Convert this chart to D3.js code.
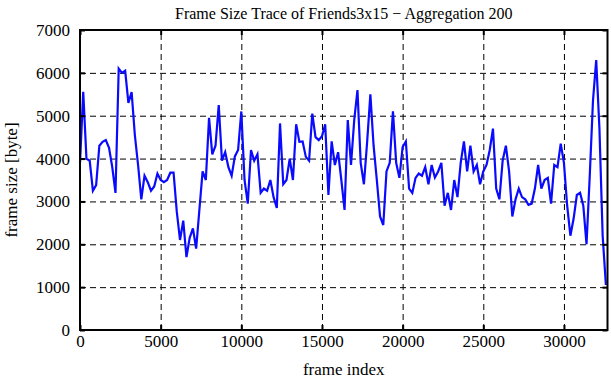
<!DOCTYPE html>
<html>
<head>
<meta charset="utf-8">
<script src="https://cdn.jsdelivr.net/npm/d3@7"></script>
<style>
  body { margin: 0; background: #fff; }
  svg text { font-family: "Liberation Serif", "DejaVu Serif", serif; fill: #000; }
</style>
</head>
<body>
<svg id="CHART" width="611" height="380"></svg>
<script>
// frame size (byte) averaged over 200 frames, one value per aggregation window
var frameSizes = [
  3900, 5560, 4000, 3950, 3250, 3380, 4300, 4390, 4430, 4250,
  3800, 3200, 6100, 6000, 6050, 5300, 5550, 4550, 3850, 3050,
  3600, 3450, 3250, 3350, 3650, 3500, 3450, 3500, 3670, 3670,
  2760, 2100, 2550, 1700, 2150, 2370, 1900, 2800, 3700, 3500,
  4950, 4100, 4300, 5250, 3950, 4150, 3800, 3600, 4050, 4200,
  5100, 3500, 2950, 4200, 3950, 4100, 3200, 3300, 3250, 3500,
  3100, 2850, 4820, 3400, 3500, 4000, 3500, 4800, 4390, 4400,
  4040, 3950, 5050, 4500, 4430, 4520, 4800, 3150, 4400, 3850,
  4150, 3500, 2800, 4900, 3850, 4900, 5600, 3900, 3400, 4390,
  5500, 4300, 3500, 2650, 2450, 3700, 3900, 5100, 3900, 3550,
  4270, 4400, 3300, 3200, 3550, 3650, 3600, 3800, 3400, 3850,
  3560, 3700, 3900, 2900, 3200, 2800, 3500, 3100, 3900, 4400,
  3700, 4300, 3700, 3850, 3400, 3700, 3850, 4200, 4700, 3300,
  3050, 3950, 4300, 3700, 2650, 3050, 3300, 3100, 3050, 2920,
  2950, 3300, 3850, 3300, 3500, 3550, 2950, 3850, 3800, 4350,
  3900, 2900, 2200, 2600, 3150, 3200, 2900, 2000, 3600, 5350,
  6300, 4700, 2200, 1050
];
var aggregation = 200;
var xTicks = [0, 5000, 10000, 15000, 20000, 25000, 30000];
var yTicks = [0, 1000, 2000, 3000, 4000, 5000, 6000, 7000];
var xMax = 32700;
var yMax = 7000;

var titleText = "Frame Size Trace of Friends3x15 \u2212 Aggregation 200";
var xLabel = "frame index";
var yLabel = "frame size [byte]";

var margin = { left: 80, right: 3.5, top: 30, bottom: 50 };
var width = 611 - margin.left - margin.right;
var height = 380 - margin.top - margin.bottom;

var svg = d3.select("#CHART");
var g = svg.append("g")
  .attr("transform", "translate(" + margin.left + "," + margin.top + ")");

var x = d3.scaleLinear().domain([0, xMax]).range([0, width]);
var y = d3.scaleLinear().domain([0, yMax]).range([height, 0]);

// dashed grid
var gridX = g.append("g")
  .attr("transform", "translate(0," + height + ")")
  .call(d3.axisBottom(x).tickValues(xTicks.slice(1)).tickSize(-height).tickFormat(""));
var gridY = g.append("g")
  .call(d3.axisLeft(y).tickValues(yTicks.slice(1, -1)).tickSize(-width).tickFormat(""));
[gridX, gridY].forEach(function (a) {
  a.select(".domain").remove();
  a.selectAll("line")
    .attr("stroke", "#000")
    .attr("stroke-width", 1)
    .attr("stroke-dasharray", "6,4");
});

// the trace
var line = d3.line()
  .x(function (d, i) { return x(i * aggregation); })
  .y(function (d) { return y(d); });

g.append("path")
  .datum(frameSizes)
  .attr("fill", "none")
  .attr("stroke", "#0a0aff")
  .attr("stroke-width", 2.2)
  .attr("stroke-linejoin", "miter")
  .attr("d", line);

// inward ticks on all four sides
function tickStyle(a) {
  a.select(".domain").remove();
  a.selectAll("line").attr("stroke", "#000").attr("stroke-width", 2);
}
var tickLen = 5;
g.append("g").attr("transform", "translate(0," + height + ")")
  .call(d3.axisBottom(x).tickValues(xTicks).tickSize(-tickLen).tickFormat(""))
  .call(tickStyle);
g.append("g")
  .call(d3.axisTop(x).tickValues(xTicks).tickSize(-tickLen).tickFormat(""))
  .call(tickStyle);
g.append("g")
  .call(d3.axisLeft(y).tickValues(yTicks).tickSize(-tickLen).tickFormat(""))
  .call(tickStyle);
g.append("g").attr("transform", "translate(" + width + ",0)")
  .call(d3.axisRight(y).tickValues(yTicks).tickSize(-tickLen).tickFormat(""))
  .call(tickStyle);

// tick labels
var xAxis = g.append("g").attr("transform", "translate(0," + height + ")")
  .call(d3.axisBottom(x).tickValues(xTicks).tickSize(0).tickPadding(5).tickFormat(d3.format("d")));
var yAxis = g.append("g")
  .call(d3.axisLeft(y).tickValues(yTicks).tickSize(0).tickPadding(10).tickFormat(d3.format("d")));
[xAxis, yAxis].forEach(function (a) {
  a.select(".domain").remove();
  a.selectAll("text")
    .style("font-family", "'Liberation Serif', serif")
    .style("font-size", "17px")
    .attr("fill", "#000");
});

// frame
g.append("rect")
  .attr("width", width)
  .attr("height", height)
  .attr("fill", "none")
  .attr("stroke", "#000")
  .attr("stroke-width", 2);

// titles
svg.append("text")
  .attr("x", margin.left + width / 2)
  .attr("y", 19)
  .attr("text-anchor", "middle")
  .style("font-size", "16px")
  .text(titleText);

svg.append("text")
  .attr("x", margin.left + width / 2)
  .attr("y", 375)
  .attr("text-anchor", "middle")
  .style("font-size", "17px")
  .text(xLabel);

svg.append("text")
  .attr("transform", "translate(17," + (margin.top + height / 2) + ") rotate(-90)")
  .attr("text-anchor", "middle")
  .style("font-size", "17px")
  .text(yLabel);
</script>
</body>
</html>
